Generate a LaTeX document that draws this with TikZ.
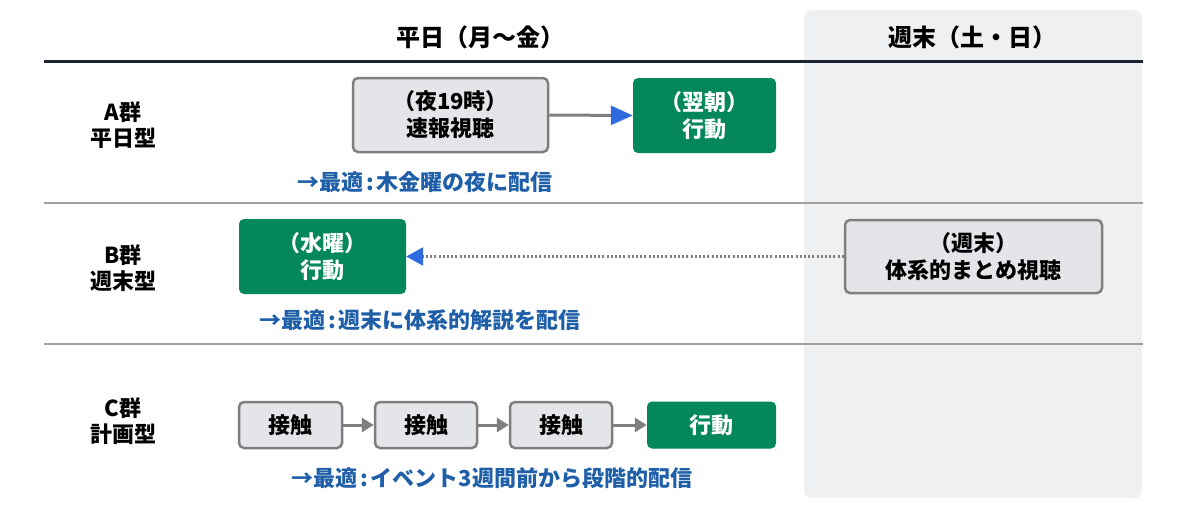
\documentclass[tikz,border=0pt]{standalone}
\usepackage{fontspec}
\setmainfont{Noto Sans CJK JP}
\usetikzlibrary{arrows.meta}
\definecolor{panelgray}{HTML}{EEF0F2}
\definecolor{navyline}{HTML}{1B2434}
\definecolor{sepgray}{HTML}{A0A0A0}
\definecolor{boxfill}{HTML}{E3E5E8}
\definecolor{boxedge}{HTML}{7F7F7F}
\definecolor{actgreen}{HTML}{04875A}
\definecolor{tipblue}{HTML}{2F6BDF}
\definecolor{notblue}{HTML}{1F5FA8}
\newcommand{\cln}{\hspace{0.12em}:\hspace{0.12em}}
\tikzset{
  grayboxst/.style={draw=boxedge, line width=2.5pt, fill=boxfill, rounded corners=5pt, align=center, inner sep=0pt,
    font=\fontsize{22}{27}\selectfont\bfseries, text=black},
  greenboxst/.style={fill=actgreen, rounded corners=5pt, align=center, inner sep=0pt,
    font=\fontsize{22}{27}\selectfont\bfseries, text=white},
  rowlabel/.style={align=center, font=\fontsize{22}{26}\selectfont\bfseries, text=black},
  headst/.style={font=\fontsize{24}{28}\selectfont\bfseries, text=black},
  notest/.style={font=\fontsize{22}{26}\selectfont\bfseries, text=notblue},
  flowarrow/.style={draw=boxedge, line width=3pt, -{Triangle[length=12pt,width=14pt]}},
}
\begin{document}
\begin{tikzpicture}[x=1pt,y=-1pt]
\useasboundingbox (0,0) rectangle (1200,528);
\fill[white] (0,0) rectangle (1200,528);
% weekend panel
\fill[panelgray, rounded corners=8pt] (804,10) rectangle (1142,498);
% headers
\node[headst] (hwd) at (480,37) {平日（月～金）};
\node[headst] (hwe) at (972,37) {週末（土・日）};
% lines
\draw[navyline, line width=3pt] (44,61) -- (1143,61);
\draw[sepgray, line width=1.5pt] (44,203) -- (1143,203);
\draw[sepgray, line width=1.5pt] (44,344) -- (1143,344);
% row labels
\node[rowlabel] (la) at (123,125) {A群\\平日型};
\node[rowlabel] (lb) at (123,268) {B群\\週末型};
\node[rowlabel] (lc) at (123,421) {C群\\計画型};
% Row A
\node[grayboxst, minimum width=195pt, minimum height=74pt] (a1) at (450.5,115) {（夜19時）\\速報視聴};
\node[greenboxst, minimum width=143pt, minimum height=75pt] (a2) at (704.5,115.5) {（翌朝）\\行動};
\draw[draw=boxedge, line width=3pt, -{Triangle[length=22pt,width=19pt,color=tipblue]}] (a1.east) -- (a2.west);
\node[notest] (na) at (425,182) {→最適\cln 木金曜の夜に配信};
% Row B
\node[greenboxst, minimum width=167pt, minimum height=75pt] (b1) at (322.5,256.5) {（水曜）\\行動};
\node[grayboxst, minimum width=257pt, minimum height=73pt] (b2) at (973.5,256.5) {（週末）\\体系的まとめ視聴};
\draw[draw=boxedge, line width=2.5pt, dash pattern=on 2pt off 2.2pt, -{Triangle[length=17pt,width=18pt,color=tipblue]}] (b2.west) -- (b1.east);
\node[notest] (nb) at (420,320) {→最適\cln 週末に体系的解説を配信};
% Row C
\node[grayboxst, minimum width=103pt, minimum height=46pt] (c1) at (290.5,425) {接触};
\node[grayboxst, minimum width=102pt, minimum height=46pt] (c2) at (426,425) {接触};
\node[grayboxst, minimum width=102pt, minimum height=46pt] (c3) at (561,425) {接触};
\node[greenboxst, minimum width=129pt, minimum height=47pt] (c4) at (711.5,425) {行動};
\draw[flowarrow] (c1.east) -- (c2.west);
\draw[flowarrow] (c2.east) -- (c3.west);
\draw[flowarrow] (c3.east) -- (c4.west);
\node[notest] (nc) at (492,478) {→最適\cln イベント3週間前から段階的配信};
\end{tikzpicture}
\end{document}
